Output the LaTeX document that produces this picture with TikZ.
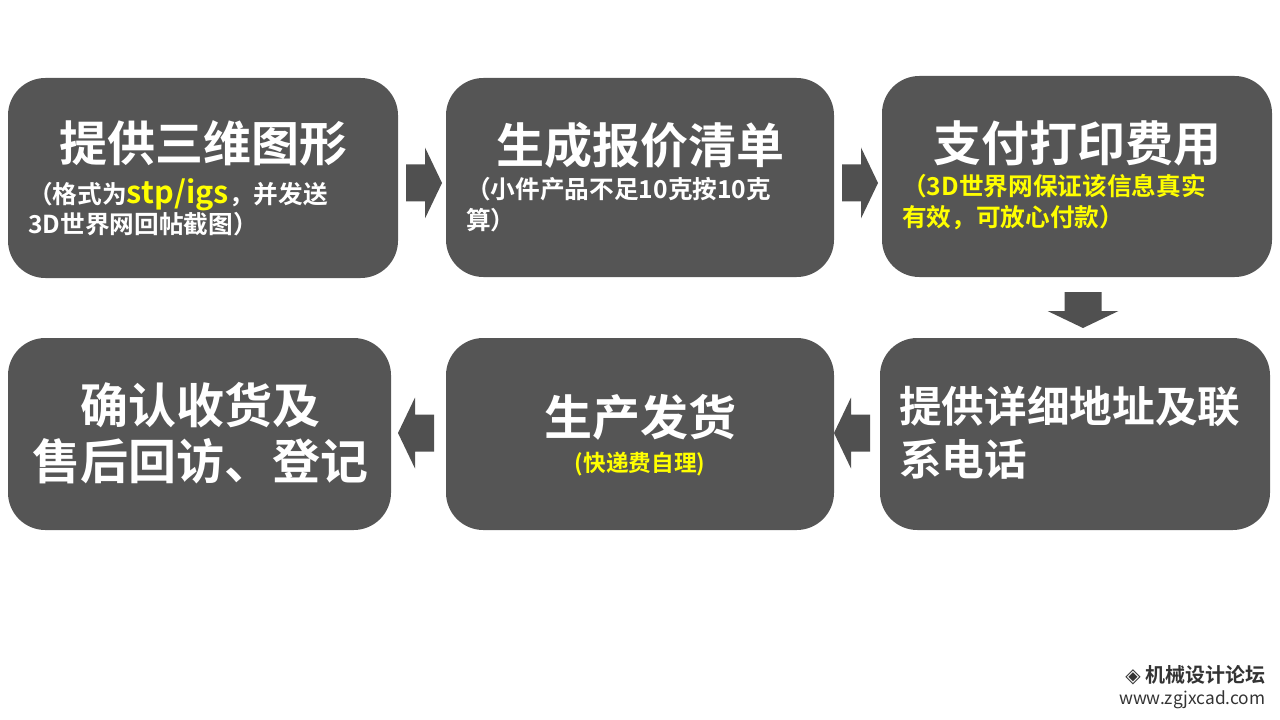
\documentclass[tikz,border=0pt]{standalone}
\usepackage{fontspec}
\setmainfont{Noto Sans CJK SC}
\newfontfamily\boldcjk{Noto Sans CJK SC Bold}
\newfontfamily\symfont{DejaVu Sans}
\definecolor{boxgray}{RGB}{85,85,85}
\definecolor{arrowgray}{RGB}{80,80,80}
\definecolor{hiyellow}{RGB}{255,255,0}
\tikzset{
  stepbox/.style={fill=boxgray, rounded corners=28, draw=none},
  ttl/.style={text=white, font=\boldcjk\fontsize{36}{42}\selectfont},
  sub/.style={text=white, font=\boldcjk\fontsize{18.5}{23}\selectfont, align=left, inner sep=0pt},
  blkarrow/.pic={\fill[arrowgray] (-18,-18.5) -- (1,-18.5) -- (1,-35.5) -- (18,0)
    -- (1,35.5) -- (1,18.5) -- (-18,18.5) -- cycle;}
}
\begin{document}
\begin{tikzpicture}[x=0.75pt,y=-0.75pt]
\useasboundingbox (0,0) rectangle (1280,720);
%boxes
\draw[stepbox] (8,78) rectangle (398,278);
\draw[stepbox] (446,78) rectangle (834,277);
\draw[stepbox] (882,76) rectangle (1272,277);
\draw[stepbox] (8,338) rectangle (391,530);
\draw[stepbox] (446,338) rectangle (834,530);
\draw[stepbox] (880,338) rectangle (1270,530);
%titles
\node[ttl] (t1) at (203,143) {提供三维图形};
\node[ttl] (t2) at (640,145) {生成报价清单};
\node[ttl] (t3) at (1077,143) {支付打印费用};
\node[ttl, align=center] (t4) at (200,433) {确认收货及\\售后回访、登记};
\node[ttl] (t5) at (640,417) {生产发货};
\node[ttl, align=left, anchor=west, inner sep=0pt, font=\boldcjk\fontsize{32}{40}\selectfont] (t6) at (899,433) {提供详细地址及联\\系电话};
%subtitles
\node[sub, anchor=north west] (s1) at (28,178) {（格式为{\textcolor{hiyellow}{\fontsize{23}{23}\selectfont stp/igs}}，并发送\\3D世界网回帖截图）};
\node[sub, anchor=north west] (s2) at (466,177) {（小件产品不足10克按10克\\算）};
\node[sub, anchor=north west, text=hiyellow] (s3) at (902,174) {（3D世界网保证该信息真实\\有效，可放心付款）};
\node[sub, text=hiyellow, font=\boldcjk\fontsize{17}{19}\selectfont] (s5) at (640,464) {(快递费自理)};
%arrows
\pic at (424,183) {blkarrow};
\pic at (860,183) {blkarrow};
\pic[rotate=-90] at (1083,310) {blkarrow};
\pic[rotate=180] at (852,433) {blkarrow};
\pic[rotate=180] at (416,433) {blkarrow};
%mark
\node[anchor=east, text=black!80, font=\boldcjk\fontsize{15}{16}\selectfont] (wm1) at (1270,675) {{\symfont ◈} 机械设计论坛};
\node[anchor=east, text=black!80, font=\fontsize{13}{14}\selectfont] (wm2) at (1270,700) {www.zgjxcad.com};
\end{tikzpicture}
\end{document}
